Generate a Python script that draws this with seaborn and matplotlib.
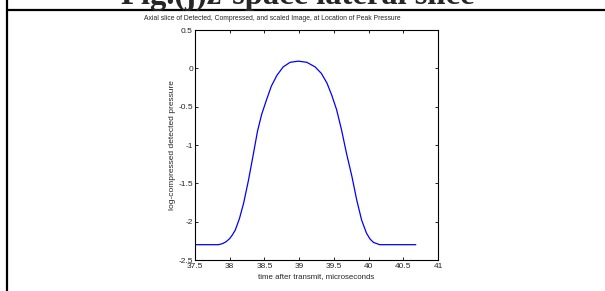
import matplotlib
matplotlib.use("Agg")
import matplotlib.pyplot as plt
from matplotlib.lines import Line2D
import seaborn as sns
import pandas as pd

# time after transmit (microseconds)
time_us = [37.50, 37.84, 37.90, 37.95, 38.00, 38.04, 38.08, 38.14, 38.20, 38.27,
           38.34, 38.40, 38.46, 38.53, 38.60, 38.68, 38.77, 38.87, 38.99, 39.11,
           39.23, 39.32, 39.40, 39.47, 39.54, 39.61, 39.68, 39.76, 39.83, 39.90,
           39.97, 40.02, 40.07, 40.16, 40.68]
# log-compressed detected pressure
pressure = [-2.30, -2.30, -2.285, -2.26, -2.22, -2.17, -2.11, -1.96, -1.76, -1.46,
            -1.12, -0.82, -0.60, -0.41, -0.23, -0.09, 0.02, 0.08, 0.095, 0.08,
            0.02, -0.065, -0.19, -0.35, -0.54, -0.80, -1.10, -1.41, -1.72, -1.98,
            -2.15, -2.225, -2.27, -2.30, -2.30]

x_ticks = [37.5, 38, 38.5, 39, 39.5, 40, 40.5, 41]
x_tick_labels = ["37.5", "38", "38.5", "39", "39.5", "40", "40.5", "41"]
y_ticks = [-2.5, -2, -1.5, -1, -0.5, 0, 0.5]
y_tick_labels = ["-2.5", "-2", "-1.5", "-1", "-0.5", "0", "0.5"]

sns.set_theme(style="white")
plt.rcParams['font.family'] = ['Liberation Sans', 'DejaVu Sans']

df = pd.DataFrame({"t": time_us, "p": pressure})

fig = plt.figure(figsize=(6.05, 2.91), dpi=100)
fig.patch.set_facecolor("white")
ax = fig.add_axes([0.3223, 0.1065, 0.4017, 0.790])
sns.lineplot(data=df, x="t", y="p", ax=ax, color="#0000ff", linewidth=0.9,
             estimator=None, sort=False)

ax.set_xlim(37.5, 41)
ax.set_ylim(-2.5, 0.5)
ax.set_xticks(x_ticks)
ax.set_xticklabels(x_tick_labels)
ax.set_yticks(y_ticks)
ax.set_yticklabels(y_tick_labels)
ax.tick_params(direction="in", length=2.5, width=0.6, labelsize=6, pad=1.5,
               top=True, right=True, bottom=True, left=True, color="black")
ax.tick_params(axis="x", pad=2.5)
for s in ax.spines.values():
    s.set_color("black")
    s.set_linewidth(0.8)
    s.set_visible(True)
ax.set_xlabel("time after transmit, microseconds", fontsize=5.7, labelpad=1.5)
ax.set_ylabel("log-compressed detected pressure", fontsize=6, labelpad=2)
ax.grid(False)

fig.text(272 / 605, 1 - 18 / 291,
         "Axial slice of Detected, Compressed, and scaled Image, at Location of Peak Pressure",
         ha="center", va="center", fontsize=4.85)

# document frame pieces
fig.text(298 / 605, 1 - 3.5 / 291, "Fig.(j)z-space lateral slice", ha="center", va="baseline",
         fontsize=23.5, fontweight="bold", family=["Liberation Serif", "DejaVu Serif"])
fig.add_artist(Line2D([6.5 / 605, 1.0], [1 - 9.5 / 291, 1 - 9.5 / 291],
                      transform=fig.transFigure, color="black", linewidth=1.6))
fig.add_artist(Line2D([6.5 / 605, 6.5 / 605], [0, 1],
                      transform=fig.transFigure, color="black", linewidth=1.6))

fig.savefig("out.png", dpi=100, facecolor="white")
